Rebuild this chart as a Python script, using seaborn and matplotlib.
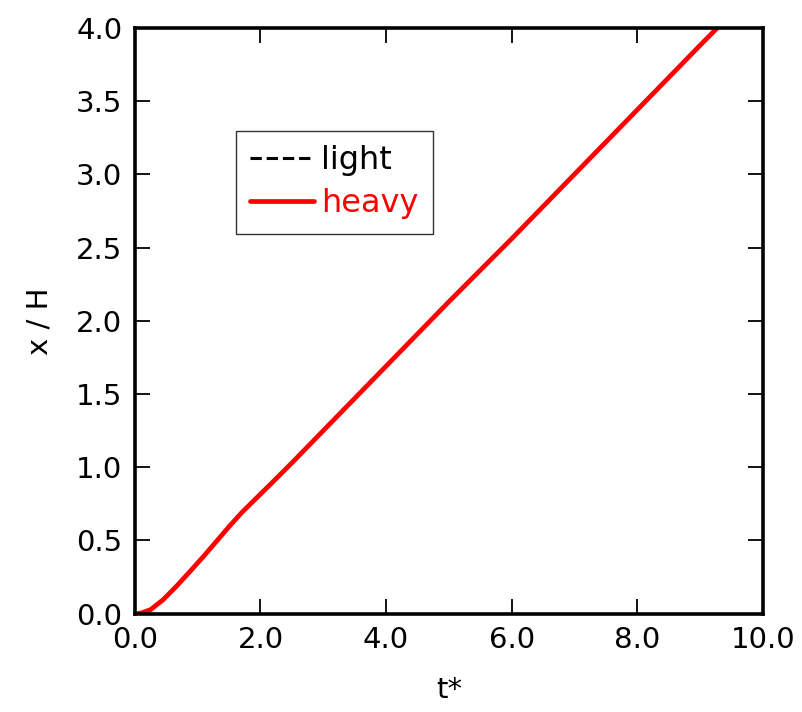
import matplotlib
matplotlib.use("Agg")
import matplotlib.pyplot as plt
import seaborn as sns
import pandas as pd

t_light = [0.0, 0.1, 0.25, 0.45, 0.66, 0.88, 1.1, 1.3, 1.5, 1.7, 1.9, 2.15, 2.5, 3.0, 4.0, 5.0, 6.0, 7.0, 8.0, 9.0, 9.3]
x_light = [0.0, 0.005, 0.028, 0.096, 0.187, 0.29, 0.395, 0.495, 0.595, 0.69, 0.775, 0.88, 1.03, 1.25, 1.69, 2.13, 2.56, 3.00, 3.44, 3.88, 4.01]
t_heavy = [0.0, 0.1, 0.25, 0.45, 0.66, 0.88, 1.1, 1.3, 1.5, 1.7, 1.9, 2.15, 2.5, 3.0, 4.0, 5.0, 6.0, 7.0, 8.0, 9.0, 9.3]
x_heavy = [0.0, 0.005, 0.028, 0.096, 0.187, 0.29, 0.395, 0.495, 0.595, 0.69, 0.775, 0.88, 1.03, 1.25, 1.69, 2.13, 2.56, 3.00, 3.44, 3.88, 4.01]
xticks = [0, 2, 4, 6, 8, 10]
yticks = [0.0, 0.5, 1.0, 1.5, 2.0, 2.5, 3.0, 3.5, 4.0]

sns.set_theme(style="ticks")
plt.rcParams['font.family'] = ['DejaVu Sans']
plt.rcParams['text.color'] = 'black'
plt.rcParams['axes.labelcolor'] = 'black'

df_l = pd.DataFrame({"t": t_light, "x": x_light})
df_h = pd.DataFrame({"t": t_heavy, "x": x_heavy})

fig = plt.figure(figsize=(8.03, 7.12), dpi=100)
ax = fig.add_axes([0.168, 0.138, 0.782, 0.823])

sns.lineplot(data=df_l, x="t", y="x", ax=ax, color="black", linestyle="--", lw=2.2, label="light")
sns.lineplot(data=df_h, x="t", y="x", ax=ax, color="red", lw=3.4, label="heavy")

ax.set_xlim(0, 10)
ax.set_ylim(0, 4.0)
ax.set_xticks(xticks)
ax.set_xticklabels([f"{v:.1f}" for v in xticks])
ax.set_yticks(yticks)
ax.set_yticklabels([f"{v:.1f}" for v in yticks])
ax.tick_params(direction="in", length=11, width=1.3, top=True, right=True,
               labelsize=21, pad=9, colors="black")
for s in ax.spines.values():
    s.set_linewidth(2.6)
    s.set_color("black")
ax.set_xlabel("t*", fontsize=21, labelpad=16, color="black")
ax.set_ylabel("x / H", fontsize=21, labelpad=16, color="black")

leg = ax.legend(loc="upper left", bbox_to_anchor=(0.161, 0.824), fontsize=23, frameon=True,
                fancybox=False, edgecolor="black", handlelength=2.0, handletextpad=0.2,
                borderpad=0.45, labelspacing=0.38, borderaxespad=0)
leg.get_frame().set_linewidth(1.0)
for txt, c in zip(leg.get_texts(), ["black", "red"]):
    txt.set_color(c)

fig.savefig("out.png", dpi=100)
